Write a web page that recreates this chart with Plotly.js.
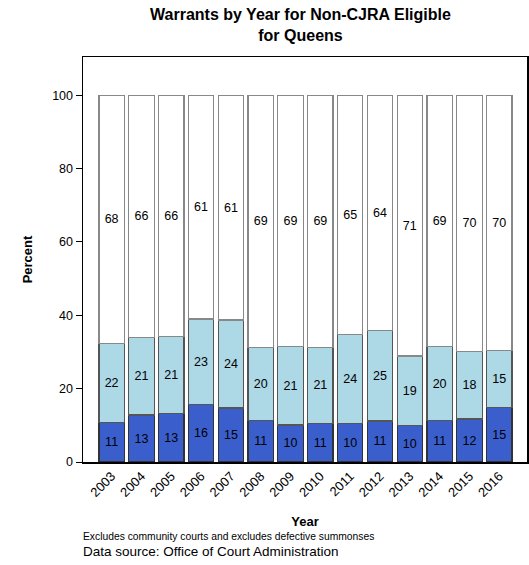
<!DOCTYPE html>
<html><head><meta charset="utf-8">
<script src="https://cdn.plot.ly/plotly-3.0.1.min.js"></script>
<style>body{margin:0;background:#fff}#chart{width:529px;height:565px}</style>
</head><body><div id="chart"></div>
<script>
const years = ['2003','2004','2005','2006','2007','2008','2009','2010','2011','2012','2013','2014','2015','2016'];
const bottomVals = [10.8,12.8,13.3,15.7,14.7,11.3,10.1,10.6,10.4,11.2,10.0,11.3,11.7,14.9];
const middleVals = [21.5,21.1,20.9,23.3,24.0,19.9,21.4,20.6,24.4,24.6,18.9,20.1,18.4,15.4];
const topVals    = [67.7,66.1,65.8,61.0,61.3,68.8,68.5,68.8,65.2,64.2,71.1,68.6,69.9,69.7];

const font = 'Liberation Sans, Arial, Helvetica, sans-serif';
function seg(vals, color, lineColor){
  return {type:'bar', x:years, y:vals, marker:{color:color, line:{color:lineColor, width:1.2}},
    text: vals.map(v=>String(Math.round(v))), textposition:'inside', insidetextanchor:'middle',
    textangle:0, textfont:{family:font, size:12.5, color:'#000'}, constraintext:'none', hoverinfo:'skip'};
}
const data = [
  seg(bottomVals,'#3A5FCD','#333333'),
  seg(middleVals,'#ADD8E6','#555555'),
  seg(topVals,'#FFFFFF','#888888')
];
const layout = {
  width:529, height:565, barmode:'stack', bargap:0.15, showlegend:false,
  paper_bgcolor:'#fff', plot_bgcolor:'#fff',
  margin:{l:83, r:2, t:57, b:103},
  font:{family:font, size:12, color:'#000'},
  title:{text:'<b>Warrants by Year for Non-CJRA Eligible<br>for Queens</b>', x:0.568, xanchor:'center', y:0.965, yanchor:'top', font:{family:font, size:16, color:'#000'}},
  xaxis:{type:'category', range:[-0.96,13.93], tickangle:-45, ticks:'', showgrid:false, zeroline:false,
    showline:true, mirror:true, linecolor:'#000', linewidth:1.5, tickfont:{family:font,size:13},
    title:{text:'<b>Year</b>', font:{family:font,size:13}, standoff:18}},
  yaxis:{range:[0,110.4], tickvals:[0,20,40,60,80,100], ticks:'outside', ticklen:6, tickcolor:'#000',
    showgrid:false, zeroline:false, showline:true, mirror:true, linecolor:'#000', linewidth:1.5,
    tickfont:{family:font,size:12.5}, title:{text:'<b>Percent</b>', font:{family:font,size:13}, standoff:16}},
  annotations:[
    {text:'Excludes community courts and excludes defective summonses', xref:'paper', yref:'paper', x:0, xshift:-2, y:-0.185, xanchor:'left', yanchor:'middle', showarrow:false, font:{family:font,size:10.3,color:'#000'}},
    {text:'Data source: Office of Court Administration', xref:'paper', yref:'paper', x:0, xshift:-2, y:-0.222, xanchor:'left', yanchor:'middle', showarrow:false, font:{family:font,size:13.5,color:'#000'}}
  ]
};
Plotly.newPlot('chart', data, layout, {displayModeBar:false, staticPlot:true});
</script></body></html>
